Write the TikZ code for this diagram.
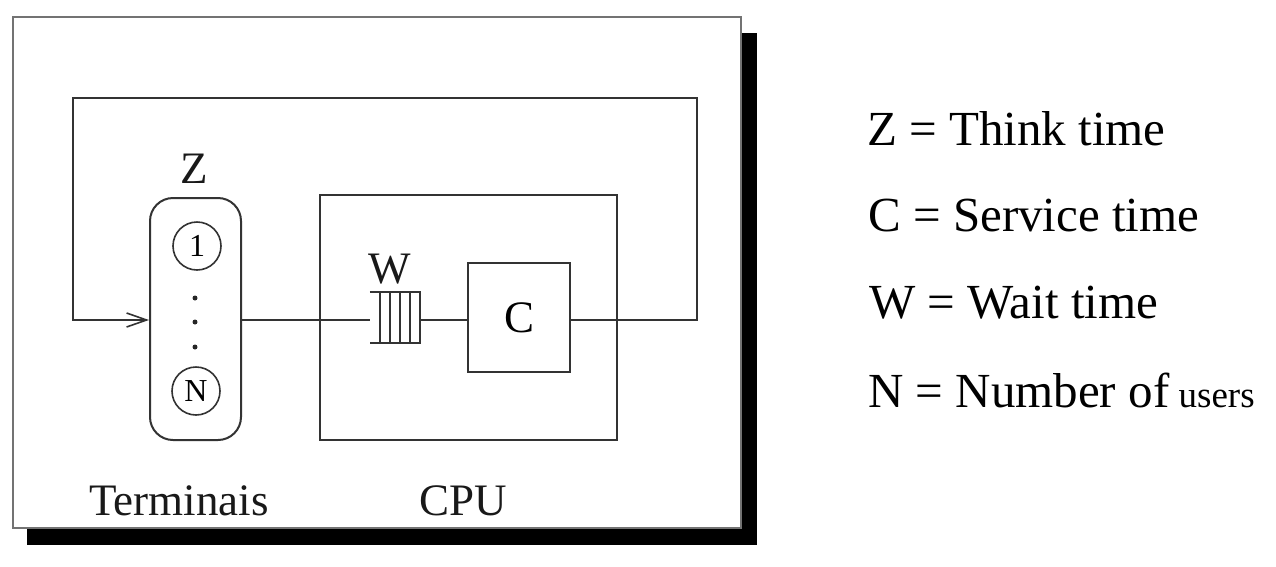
\documentclass[tikz,border=0pt]{standalone}
\usepackage{fontspec}
\setmainfont{Liberation Serif}
\usetikzlibrary{arrows.meta}
\tikzset{
  ln/.style={draw=black!80, line width=2pt},
  lbl/.style={font=\fontsize{45}{54}\selectfont, inner sep=0pt, anchor=base, text=black!90},
  legend/.style={font=\fontsize{49}{58}\selectfont, inner sep=0pt, anchor=base west},
  usr/.style={circle, draw=black!80, line width=1.6pt, minimum size=48pt, inner sep=0pt, font=\fontsize{32}{36}\selectfont},
  dotn/.style={circle, fill=black!85, minimum size=5pt, inner sep=0pt},
  arr/.style={-{Straight Barb[length=20pt,width=14pt,line width=1.6pt]}}
}
\begin{document}
\begin{tikzpicture}[x=1pt,y=-1pt]
\useasboundingbox (0,0) rectangle (1276,566);
% shadow and outer frame
\fill[black] (27,33) rectangle (757,545);
\filldraw[fill=white, draw=black!55, line width=2.5pt] (13,17) rectangle (741,528);
% terminals
\node[ln, rounded corners=23pt, minimum width=91pt, minimum height=242pt, inner sep=0pt] (term) at (195.5,319) {};
\node[usr] (u1) at (197,246) {1};
\node[usr] (uN) at (196,391) {N};
\node[dotn] (d1) at (195,298) {};
\node[dotn] (d2) at (195,322) {};
\node[dotn] (d3) at (195,347) {};
\node[lbl] (zl) at (194,183) {Z};
\node[lbl] (tl) at (179,515) {Terminais};
% CPU
\node[ln, minimum width=297pt, minimum height=245pt, inner sep=0pt] (cpu) at (468.5,317.5) {};
\node[lbl] (cl) at (463,515) {CPU};
% queue
\node[inner sep=0pt, minimum width=50pt, minimum height=51pt] (q) at (395,317.5) {};
\draw[ln, line width=1.6pt] (q.north west) -- (q.north east) -- (q.south east) -- (q.south west);
\foreach \xx in {10,20,30,40}
  \draw[ln, line width=1.6pt] ([xshift=\xx pt]q.north west) -- ([xshift=\xx pt]q.south west);
\node[lbl] (wl) at (390,283) {W};
% server
\node[ln, minimum width=102pt, minimum height=109pt, inner sep=0pt, font=\fontsize{45}{54}\selectfont] (srv) at (519,317.5) {C};
% connectors
\coordinate (tr) at (697,98);
\coordinate (tlc) at (73,98);
\draw[ln] (term.east |- 0,320) -- (q.west |- 0,320);
\draw[ln] (q.east |- 0,320) -- (srv.west |- 0,320);
\draw[ln, arr] (srv.east |- 0,320) -- (tr |- 0,320) -- (tr) -- (tlc) -- (tlc |- 0,320) -- (term.west |- 0,320);
% legend
\node[legend] (lz) at (867,145) {Z = Think time};
\node[legend] (lc) at (868,231) {C = Service time};
\node[legend] (lw) at (869,318) {W = Wait time};
\node[legend] (ln) at (868,407) {N = Number of{\fontsize{37}{44}\selectfont\ users}};
\end{tikzpicture}
\end{document}
